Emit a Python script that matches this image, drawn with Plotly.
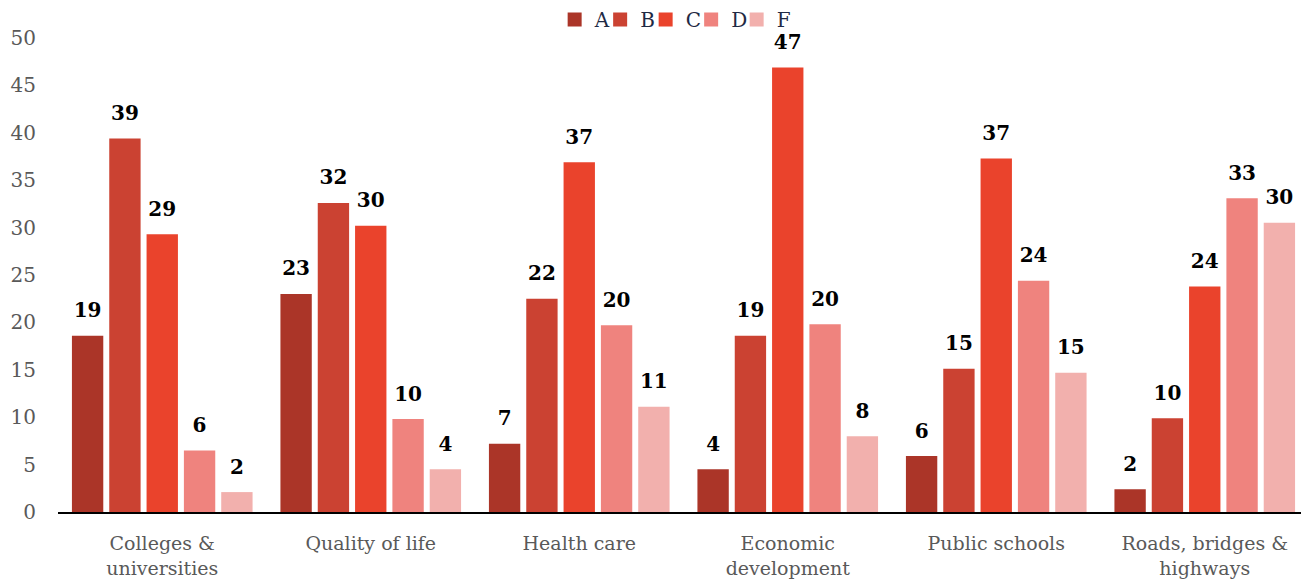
import plotly.graph_objects as go

categories = ["Colleges &<br>universities", "Quality of life", "Health care",
              "Economic<br>development", "Public schools", "Roads, bridges &<br>highways"]
series_names = ["A", "B", "C", "D", "F"]
values_A = [18.6, 23.0, 7.2, 4.5, 5.9, 2.4]
values_B = [39.4, 32.6, 22.5, 18.6, 15.1, 9.9]
values_C = [29.3, 30.2, 36.9, 46.9, 37.3, 23.8]
values_D = [6.5, 9.8, 19.7, 19.8, 24.4, 33.1]
values_F = [2.1, 4.5, 11.1, 8.0, 14.7, 30.5]
labels_A = [19, 23, 7, 4, 6, 2]
labels_B = [39, 32, 22, 19, 15, 10]
labels_C = [29, 30, 37, 47, 37, 24]
labels_D = [6, 10, 20, 20, 24, 33]
labels_F = [2, 4, 11, 8, 15, 30]
y_ticks = [0, 5, 10, 15, 20, 25, 30, 35, 40, 45, 50]

colors = ["#ab3528", "#cb4232", "#ea432c", "#ef837e", "#f2b0ad"]
all_values = [values_A, values_B, values_C, values_D, values_F]
all_labels = [labels_A, labels_B, labels_C, labels_D, labels_F]

SERIF = "DejaVu Serif"

fig = go.Figure()
for i, (name, vals, col) in enumerate(zip(series_names, all_values, colors)):
    fig.add_trace(go.Bar(x=categories, y=vals, name=name, marker_color=col,
                         marker_line_width=0, offsetgroup=name,
                         legendgroup=name, showlegend=False))
for name, vals, labs in zip(series_names, all_values, all_labels):
    fig.add_trace(go.Scatter(x=categories, y=vals, mode="markers+text",
                             text=[str(v) for v in labs], textposition="top center",
                             marker=dict(size=20, opacity=0),
                             textfont=dict(family=SERIF, size=20, color="#000000", weight="bold"),
                             offsetgroup=name, showlegend=False, cliponaxis=False,
                             hoverinfo="skip"))
# legend swatches (square markers, no data points)
for i, (name, col) in enumerate(zip(series_names, colors)):
    fig.add_trace(go.Scatter(x=[None], y=[None], mode="markers", name=name,
                             legendgroup=name,
                             marker=dict(symbol="square", size=14, color=col),
                             legendwidth=(20 if i == len(series_names) - 1 else 0.5)))

fig.update_layout(
    width=1301, height=575,
    barmode="group", scattermode="group",
    bargap=0.105, bargroupgap=0.16, scattergap=0.105,
    plot_bgcolor="white", paper_bgcolor="white",
    margin=dict(l=50, r=0, t=30, b=71, autoexpand=False),
    font=dict(family=SERIF, size=19, color="#595959"),
    legend=dict(orientation="h", x=0.397, xanchor="left", y=1.039, yanchor="middle",
                font=dict(family=SERIF, size=20, color="#1f2a44"),
                itemwidth=30, entrywidthmode="pixels",
                tracegroupgap=0, bgcolor="rgba(0,0,0,0)", borderwidth=0),
    xaxis=dict(showgrid=False, showline=True, linecolor="#000000", linewidth=2,
               ticks="", ticklabelstandoff=13,
               tickfont=dict(family=SERIF, size=19, color="#595959")),
    yaxis=dict(range=[0, 50], tickvals=y_ticks, showgrid=False, showline=False,
               zeroline=False, ticks="", ticklabelstandoff=21,
               tickfont=dict(family=SERIF, size=20, color="#595959")),
)
fig.write_html("out.html")
